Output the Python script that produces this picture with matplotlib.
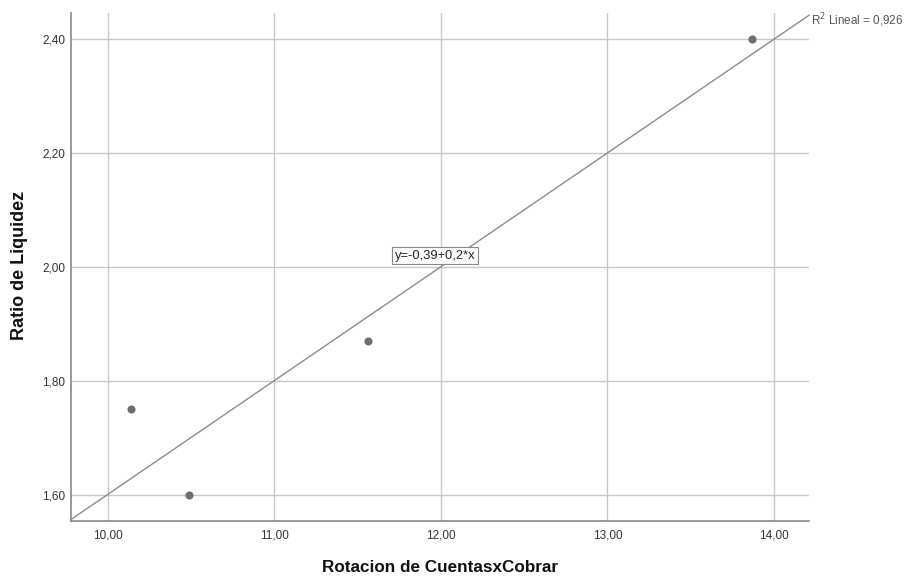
import matplotlib
matplotlib.use("Agg")
import matplotlib.pyplot as plt
import numpy as np

plt.rcParams['font.family'] = ['Liberation Sans', 'DejaVu Sans']

x_vals = [10.14, 10.49, 11.56, 13.87]
y_vals = [1.75, 1.60, 1.87, 2.40]
fit_intercept = -0.394
fit_slope = 0.1995
r2 = 0.926
x_ticks = [10, 11, 12, 13, 14]
y_ticks = [1.60, 1.80, 2.00, 2.20, 2.40]
x_label = "Rotacion de CuentasxCobrar"
y_label = "Ratio de Liquidez"
eq_label = "y=-0,39+0,2*x"

fig = plt.figure(figsize=(9.05, 5.78), dpi=100)
ax = fig.add_axes([0.0781, 0.0991, 0.894 - 0.0781, 0.9775 - 0.0991])

xmin, xmax = 9.778, 14.21
ymin, ymax = 1.555, 2.4447
ax.set_xlim(xmin, xmax)
ax.set_ylim(ymin, ymax)

ax.set_xticks(x_ticks)
ax.set_yticks(y_ticks)
ax.set_xticklabels([f"{v:.2f}".replace('.', ',') for v in x_ticks])
ax.set_yticklabels([f"{v:.2f}".replace('.', ',') for v in y_ticks])
ax.tick_params(length=0, labelsize=8.5, colors='#333333')
ax.tick_params(axis='y', pad=4)
ax.tick_params(axis='x', pad=6)
ax.grid(True, color='#c8c8c8', linewidth=1.0)
ax.set_axisbelow(True)

for s in ['top', 'right']:
    ax.spines[s].set_visible(False)
for s in ['left', 'bottom']:
    ax.spines[s].set_color('#888888')
    ax.spines[s].set_linewidth(1.2)

xs = np.array([xmin, xmax])
ax.plot(xs, fit_intercept + fit_slope * xs, color='#8c8c8c', linewidth=1.0, zorder=3, clip_on=False)

ax.scatter(x_vals, y_vals, s=34, color='#6e6e6e', zorder=4, linewidths=0)

ax.text(11.725, 2.009, eq_label, fontsize=9.3, color='#222222', ha='left', va='bottom',
        bbox=dict(boxstyle='square,pad=0.2', facecolor='white', edgecolor='#888888', linewidth=0.8),
        zorder=5)

fig.text(811 / 905, 1 - 20 / 578, "R$^2$ Lineal = " + f"{r2:.3f}".replace('.', ','),
         fontsize=8.4, color='#555555', ha='left', va='center')

fig.text(440 / 905, 1 - 568 / 578, x_label, fontsize=12.3, fontweight='bold', ha='center', va='center', color='#111111')
fig.text(19 / 905, 1 - 265 / 578, y_label, fontsize=13, fontweight='bold', ha='center', va='center', rotation=90, color='#111111')

fig.savefig("out.png", dpi=100)
